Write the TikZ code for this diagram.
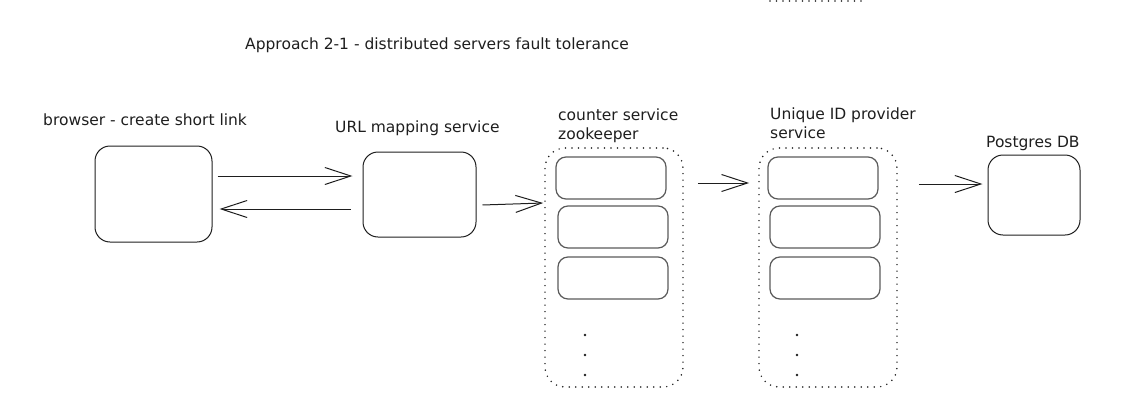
\documentclass[tikz,border=0pt]{standalone}
\usepackage{fontspec}
\setmainfont{DejaVu Sans}
\usetikzlibrary{arrows.meta}
\definecolor{ink}{HTML}{1E1E1E}
\definecolor{inner}{HTML}{5A5A5A}
\begin{document}
\begin{tikzpicture}[x=1pt,y=-1pt,
  lbl/.style={anchor=west,inner sep=0pt,text=ink,font=\fontsize{15.5}{19}\selectfont,align=left},
  bigbox/.style={draw=ink,line width=1pt,rounded corners=15pt,minimum width=#1,inner sep=0pt},
  innerbox/.style={draw=inner,line width=1.2pt,rounded corners=10pt,minimum width=110pt,minimum height=42pt,inner sep=0pt},
  group/.style={draw=ink,line width=1.7pt,line cap=round,dash pattern=on 0pt off 6.5pt,rounded corners=20pt,minimum width=138pt,minimum height=239pt,inner sep=0pt},
  arr/.style={draw=ink,line width=1pt,-{Straight Barb[length=26pt,width=17pt,line width=1pt]}},
]
\useasboundingbox (0,0) rectangle (1136,402);

% top partial dotted line
\coordinate (ta) at (770,1);
\coordinate (tb) at (863,1);
\draw[ink,line width=1.7pt,line cap=round,dash pattern=on 0pt off 6.5pt] (ta) -- (tb);

% labels
\node[lbl] (title) at (245,45) {Approach 2-1 - distributed servers fault tolerance};
\node[lbl] (lbrowser) at (43,120) {browser - create short link};
\node[lbl] (lurl) at (335,128) {URL mapping service};
\node[lbl,anchor=north west] (lcnt) at (558,109) {counter service\\zookeeper};
\node[lbl,anchor=north west] (luni) at (770,108) {Unique ID provider\\service};
\node[lbl] (lpg) at (986,143) {Postgres DB};

% main boxes
\node[bigbox=117pt,minimum height=96pt] (browser) at (153.5,194) {};
\node[bigbox=113pt,minimum height=85pt] (url) at (419.5,194.5) {};
\node[bigbox=92pt,minimum height=80pt] (pg) at (1034,195) {};

% groups
\node[group] (cnt) at (614,267.5) {};
\node[innerbox] (c1) at (611,178) {};
\node[innerbox] (c2) at (613,227) {};
\node[innerbox] (c3) at (613,278) {};

\node[group] (uni) at (828,267.5) {};
\node[innerbox] (u1) at (823,178) {};
\node[innerbox] (u2) at (825,227) {};
\node[innerbox] (u3) at (825,278) {};

% ellipsis dots
\foreach \yy in {335,355,375} {
  \fill[ink] (585,\yy) circle (1.4pt);
  \fill[ink] (797,\yy) circle (1.4pt);
}

% arrows
\draw[arr] ([xshift=5pt,yshift=18pt]browser.east) -- ([xshift=-10pt,yshift=18.5pt]url.west);
\draw[arr] ([xshift=-12pt,yshift=-14.5pt]url.west) -- ([xshift=7pt,yshift=-15pt]browser.east);
\draw[arr] ([xshift=6pt,yshift=-10.5pt]url.east) -- ([xshift=-1pt,yshift=64.5pt]cnt.west);
\draw[arr] ([xshift=14pt,yshift=84.5pt]cnt.east) -- ([xshift=-9pt,yshift=84.5pt]uni.west);
\draw[arr] ([xshift=21pt,yshift=83.5pt]uni.east) -- ([xshift=-5pt,yshift=11pt]pg.west);
\end{tikzpicture}
\end{document}
